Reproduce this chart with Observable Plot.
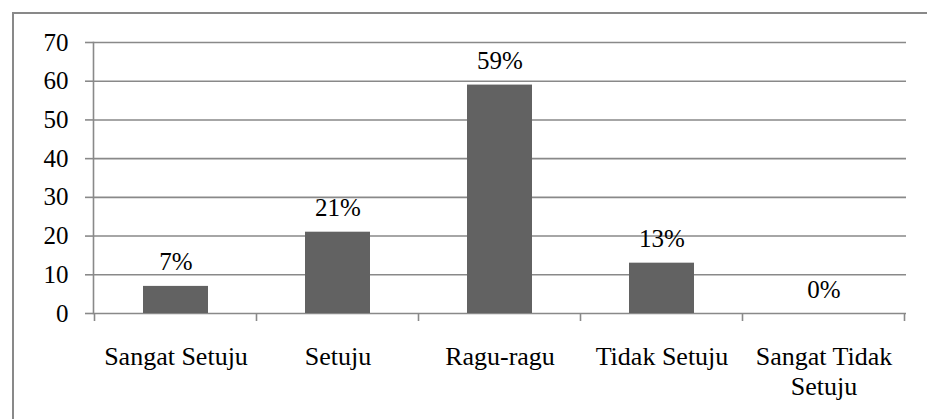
<!DOCTYPE html>
<html>
<head>
<meta charset="utf-8">
<script src="https://cdn.jsdelivr.net/npm/d3@7"></script>
<script src="https://cdn.jsdelivr.net/npm/@observablehq/plot@0.6"></script>
<style>
  html, body { margin: 0; padding: 0; background: #fff; }
  #wrap { position: relative; width: 927px; height: 419px; overflow: hidden; }
  #border { position: absolute; left: 12px; top: 12px; width: 940px; height: 440px;
            border-left: 2px solid #898989; border-top: 2px solid #898989; }
  #chart { position: absolute; left: 0; top: 0; }
  #chart svg, #chart svg text { font-family: "Liberation Serif", "Tinos", "Times New Roman", "DejaVu Serif", serif !important; }
</style>
</head>
<body>
<div id="wrap"><div id="chart"></div><div id="border"></div></div>
<script>
const categories = ["Sangat Setuju", "Setuju", "Ragu-ragu", "Tidak Setuju", "Sangat Tidak Setuju"];
const tickLabels = ["Sangat Setuju", "Setuju", "Ragu-ragu", "Tidak Setuju", "Sangat Tidak\nSetuju"];
const values = [7, 21, 59, 13, 0];
const valueLabels = ["7%", "21%", "59%", "13%", "0%"];
const yTicks = [0, 10, 20, 30, 40, 50, 60, 70];

const data = categories.map((c, i) => ({category: c, value: values[i], label: valueLabels[i]}));
const fontFamily = "Liberation Serif, Tinos, Times New Roman, DejaVu Serif, serif";
const gridColor = "#898989";

const chart = Plot.plot({
  width: 927,
  height: 419,
  marginTop: 42,
  marginBottom: 106,
  marginLeft: 93,
  marginRight: 21,
  style: {fontSize: "25px", color: "#000", background: "transparent"},
  x: {domain: categories, paddingInner: 0.6, paddingOuter: 0.3},
  y: {domain: [0, 70]},
  marks: [
    Plot.ruleY(yTicks, {stroke: gridColor, strokeWidth: 1.6}),
    Plot.frame({anchor: "left", stroke: gridColor, strokeWidth: 1.6}),
    Plot.axisY({ticks: yTicks, tickSize: 8, tickPadding: 17, stroke: gridColor, strokeWidth: 1.6,
                fill: "#000", fontSize: 25, fontFamily, label: null}),
    Plot.axisX({tickSize: 0, tickPadding: 30, fill: "#000", fontSize: 26, fontFamily, label: null,
                lineHeight: 1.15,
                tickFormat: d => tickLabels[categories.indexOf(d)]}),
    Plot.barY(data, {x: "category", y: "value", fill: "#626262"}),
    Plot.text(data, {x: "category", y: "value", text: "label", dy: -24, fontSize: 25, fontFamily, fill: "#000"})
  ]
});
document.getElementById("chart").appendChild(chart);

// category boundary ticks below the x axis, derived from the x band scale
const xs = chart.scale("x");
const ys = chart.scale("y");
const step = xs.step;
const y0 = ys.apply(0);
const svg = d3.select(chart);
const bounds = categories.map(c => xs.apply(c) - (step - xs.bandwidth) / 2);
bounds.push(bounds[bounds.length - 1] + step);
svg.append("g").selectAll("line").data(bounds).join("line")
  .attr("x1", d => d).attr("x2", d => d)
  .attr("y1", y0).attr("y2", y0 + 8)
  .attr("stroke", gridColor).attr("stroke-width", 1.6);
</script>
</body>
</html>
